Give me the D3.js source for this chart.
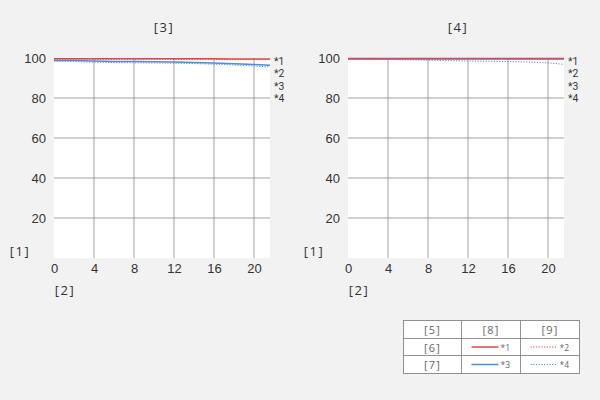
<!DOCTYPE html>
<html><head><meta charset="utf-8">
<script src="https://cdn.jsdelivr.net/npm/d3@7"></script>
<style>body{margin:0;background:#f2f2f2;}svg{display:block;font-family:"Open Sans","Noto Sans",sans-serif;}</style>
</head><body><svg id="c" width="600" height="400"></svg>
<script>
const xVals = [0, 2, 4, 6, 8, 10, 12, 14, 16, 18, 20, 21.6];
const xTicks = [0, 4, 8, 12, 16, 20];
const yTicks = [20, 40, 60, 80, 100];
const seriesNames = ["*1", "*2", "*3", "*4"];
const chartTitles = ["[3]", "[4]"];
// left chart
const leftS1 = [99.6, 99.6, 99.6, 99.6, 99.6, 99.6, 99.6, 99.6, 99.6, 99.5, 99.5, 99.5];
const leftS2 = [99.4, 99.4, 99.4, 99.4, 99.4, 99.4, 99.3, 99.3, 99.3, 99.2, 99.2, 99.2];
const leftS3 = [98.8, 98.7, 98.5, 98.3, 98.2, 98.1, 98.0, 97.8, 97.5, 97.1, 96.7, 96.4];
const leftS4 = [98.5, 98.2, 97.9, 97.7, 97.6, 97.5, 97.4, 97.2, 96.9, 96.5, 96.0, 95.5];
// right chart
const rightS1 = [99.7, 99.7, 99.7, 99.7, 99.7, 99.7, 99.7, 99.7, 99.7, 99.7, 99.7, 99.7];
const rightS2 = [99.6, 99.6, 99.6, 99.6, 99.6, 99.6, 99.6, 99.6, 99.6, 99.6, 99.6, 99.6];
const rightS3 = [99.5, 99.5, 99.5, 99.5, 99.5, 99.5, 99.5, 99.5, 99.5, 99.5, 99.5, 99.5];
const rightS4 = [99.5, 99.4, 99.3, 99.1, 98.9, 98.7, 98.5, 98.4, 98.2, 98.0, 97.6, 96.8];
const tableHeader = ["[5]", "[8]", "[9]"];
const tableRows = ["[6]", "[7]"];

const RED = "#e0474c", BLUE = "#4a8fdc";
const styles = [
  {color: RED, dash: null, w: 1.5},
  {color: RED, dash: "1.2,1.5", w: 1},
  {color: BLUE, dash: null, w: 1.5},
  {color: BLUE, dash: "1.2,1.5", w: 1}
];

const svg = d3.select("#c");
const textCol = "#333";

function drawChart(x0, title, data) {
  const x = d3.scaleLinear().domain([0, 21.6]).range([x0, x0 + 216]);
  const y = d3.scaleLinear().domain([0, 100]).range([258, 58]);
  const g = svg.append("g");
  g.append("rect").attr("x", x(0)).attr("y", y(100)).attr("width", x(21.6) - x(0)).attr("height", y(0) - y(100)).attr("fill", "#fff");
  // grid
  g.selectAll(".hg").data(yTicks.filter(d => d < 100)).join("line")
    .attr("x1", x(0)).attr("x2", x(21.6)).attr("y1", d => y(d)).attr("y2", d => y(d))
    .attr("stroke", "#8a8a8a").attr("stroke-width", 0.8);
  g.selectAll(".vg").data(xTicks.filter(d => d > 0)).join("line")
    .attr("y1", y(0)).attr("y2", y(100)).attr("x1", d => x(d)).attr("x2", d => x(d))
    .attr("stroke", "#8a8a8a").attr("stroke-width", 0.8);
  // axes via d3
  const ya = d3.axisLeft(y).tickValues(yTicks).tickSize(0).tickPadding(8);
  const yg = g.append("g").attr("transform", `translate(${x(0)},0)`).call(ya);
  yg.select(".domain").remove();
  yg.selectAll("text").attr("font-size", 13).attr("fill", textCol);
  const xa = d3.axisBottom(x).tickValues(xTicks).tickSize(0).tickPadding(6);
  const xg = g.append("g").attr("transform", `translate(0,${y(0)})`).call(xa);
  xg.select(".domain").remove();
  xg.selectAll("text").attr("font-size", 13).attr("fill", textCol);
  // lines
  const line = d3.line().x((d, i) => x(xVals[i])).y(d => y(d));
  [3, 2, 1, 0].forEach(k => {
    g.append("path").attr("d", line(data[k])).attr("fill", "none")
      .attr("stroke", styles[k].color).attr("stroke-width", styles[k].w)
      .attr("stroke-dasharray", styles[k].dash);
  });
  // series labels
  seriesNames.forEach((n, i) => {
    g.append("text").attr("x", x(21.6) + 4).attr("y", 65 + i * 12.3).text(n)
      .attr("font-size", 10.3).attr("font-family", "Roboto").attr("fill", textCol);
  });
  const br = (t, xx, yy, anchor) => g.append("text").attr("x", xx).attr("y", yy).attr("text-anchor", anchor)
    .text(t).attr("font-size", 13).attr("letter-spacing", 1.5).attr("fill", textCol);
  br(title, x(0) + 110, 32, "middle");
  br("[1]", x0 - 34, 256, "middle");
  br("[2]", x0 + 11, 295, "middle");
}
drawChart(54, chartTitles[0], [leftS1, leftS2, leftS3, leftS4]);
drawChart(348, chartTitles[1], [rightS1, rightS2, rightS3, rightS4]);

// table legend
const tx = [403.5, 461.5, 520.5, 579.5], ty = [320.5, 338.5, 355.5, 373.5];
const tg = svg.append("g");
tg.append("rect").attr("x", tx[0]).attr("y", ty[0]).attr("width", tx[3] - tx[0]).attr("height", ty[3] - ty[0]).attr("fill", "#fff").attr("stroke", "#777").attr("stroke-width", 0.8);
tx.slice(1, 3).forEach(v => tg.append("line").attr("x1", v).attr("x2", v).attr("y1", ty[0]).attr("y2", ty[3]).attr("stroke", "#777").attr("stroke-width", 0.8));
ty.slice(1, 3).forEach(v => tg.append("line").attr("x1", tx[0]).attr("x2", tx[3]).attr("y1", v).attr("y2", v).attr("stroke", "#777").attr("stroke-width", 0.8));
tableHeader.forEach((h, i) => tg.append("text").attr("x", (tx[i] + tx[i + 1]) / 2).attr("y", ty[0] + 13).attr("text-anchor", "middle").text(h).attr("font-size", 11).attr("letter-spacing", 1.2).attr("fill", "#666"));
tableRows.forEach((r, j) => tg.append("text").attr("x", (tx[0] + tx[1]) / 2).attr("y", ty[j + 1] + 13).attr("text-anchor", "middle").text(r).attr("font-size", 11).attr("letter-spacing", 1.2).attr("fill", "#666"));
seriesNames.forEach((n, i) => {
  const col = i % 2, row = Math.floor(i / 2);
  const cx = tx[col + 1], cy = (ty[row + 1] + ty[row + 2]) / 2;
  tg.append("line").attr("x1", cx + 10).attr("x2", cx + 37).attr("y1", cy).attr("y2", cy)
    .attr("stroke", styles[i].color).attr("stroke-width", styles[i].w).attr("stroke-dasharray", styles[i].dash);
  tg.append("text").attr("x", cx + 39).attr("y", cy + 3.5).text(n).attr("font-size", 8.5).attr("fill", "#666");
});
</script></body></html>
